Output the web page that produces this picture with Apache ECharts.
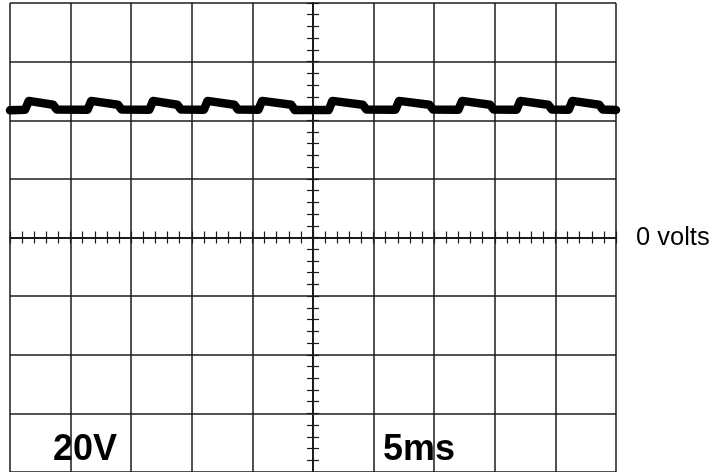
<!DOCTYPE html>
<html>
<head>
<meta charset="utf-8">
<script src="https://cdn.jsdelivr.net/npm/echarts@6/dist/echarts.min.js"></script>
<style>
  html, body { margin: 0; padding: 0; background: #fff; }
  #chart { width: 716px; height: 472px; }
</style>
</head>
<body>
<div id="chart"></div>
<script>
// scope settings
const voltsPerDiv = 20
const msPerDiv = 5
const voltLabel = '20V'
const timeLabel = '5ms'
const zeroLabel = '0 volts'

// trace: time in ms from the left edge, level in volts
const traceTime = [
  0, 1.25, 1.55, 3.55, 3.85,
  6.4, 6.7, 8.9, 9.2,
  11.5, 11.8, 13.8, 14.1,
  16.0, 16.3, 18.5, 18.8,
  20.5, 20.8, 23.2, 23.5,
  26.3, 26.6, 29.1, 29.4,
  31.8, 32.1, 34.6, 34.9,
  37.0, 37.3, 39.6, 39.9,
  41.8, 42.1, 44.4, 44.7,
  46.1, 46.4, 48.6, 48.9,
  50
]
const traceVolts = [
  43.4, 43.6, 46.6, 45.3, 43.7,
  43.6, 46.6, 45.3, 43.7,
  43.6, 46.6, 45.3, 43.7,
  43.6, 46.6, 45.3, 43.7,
  43.6, 46.6, 45.3, 43.5,
  43.5, 46.6, 45.3, 43.7,
  43.6, 46.6, 45.3, 43.7,
  43.6, 46.6, 45.3, 43.7,
  43.6, 46.6, 45.3, 43.7,
  43.6, 46.6, 45.3, 43.7,
  43.5
]

const ink = '#1a1a1a'
const gridLine = { show: true, lineStyle: { color: ink, width: 1.5 } }

// a centre axis with small ticks on one side
function tickAxis(inside, extra) {
  return Object.assign({
    type: 'value',
    axisLine: { show: true, onZero: true, lineStyle: { color: ink, width: 1.5 } },
    axisTick: { show: true, inside: inside, length: 6, lineStyle: { color: ink, width: 1.2 } },
    minorTick: { show: true, splitNumber: 5, length: 6, lineStyle: { color: ink, width: 1.2 } },
    axisLabel: { show: false },
    splitLine: { show: false }
  }, extra)
}

const timeRange = { min: 0, max: 10 * msPerDiv, interval: msPerDiv }
const voltRange = { min: -4 * voltsPerDiv, max: 4 * voltsPerDiv, interval: voltsPerDiv }

const chart = echarts.init(document.getElementById('chart'))
chart.setOption({
  animation: false,
  backgroundColor: '#fff',
  grid: { left: 10, right: 100, top: 3, bottom: 0 },
  xAxis: [
    Object.assign({
      type: 'value',
      axisLine: { show: false },
      axisTick: { show: false },
      axisLabel: { show: false },
      splitLine: gridLine
    }, timeRange),
    tickAxis(false, Object.assign({ position: 'bottom', axisLine: { show: true, onZero: true, onZeroAxisIndex: 0, lineStyle: { color: ink, width: 1.5 } } }, timeRange)),
    tickAxis(true, Object.assign({ position: 'bottom', axisLine: { show: true, onZero: true, onZeroAxisIndex: 0, lineStyle: { color: ink, width: 1.5 } } }, timeRange)),
    // helper axis centred on the screen so the vertical tick axes sit in the middle
    { type: 'value', min: -5 * msPerDiv, max: 5 * msPerDiv, show: false }
  ],
  yAxis: [
    Object.assign({
      type: 'value',
      axisLine: { show: false },
      axisTick: { show: false },
      axisLabel: { show: false },
      splitLine: gridLine
    }, voltRange),
    tickAxis(false, Object.assign({ position: 'left', axisLine: { show: true, onZero: true, onZeroAxisIndex: 3, lineStyle: { color: ink, width: 1.5 } } }, voltRange)),
    tickAxis(true, Object.assign({ position: 'left', axisLine: { show: true, onZero: true, onZeroAxisIndex: 3, lineStyle: { color: ink, width: 1.5 } } }, voltRange))
  ],
  series: [
    {
      type: 'line',
      xAxisIndex: 0,
      yAxisIndex: 0,
      data: traceTime.map((t, i) => [t, traceVolts[i]]),
      showSymbol: false,
      lineStyle: { color: '#000', width: 8.5, cap: 'round', join: 'round' },
      z: 5
    }
  ],
  graphic: [
    {
      type: 'text', left: 636, top: 225,
      style: { text: zeroLabel, font: '25.5px "Liberation Sans", Arial, sans-serif', fill: '#000' }
    },
    {
      type: 'text', left: 53, top: 432,
      style: { text: voltLabel, font: 'bold 36px "Liberation Sans", Arial, sans-serif', fill: '#000' }
    },
    {
      type: 'text', left: 383, top: 432,
      style: { text: timeLabel, font: 'bold 36px "Liberation Sans", Arial, sans-serif', fill: '#000' }
    }
  ]
})
</script>
</body>
</html>
